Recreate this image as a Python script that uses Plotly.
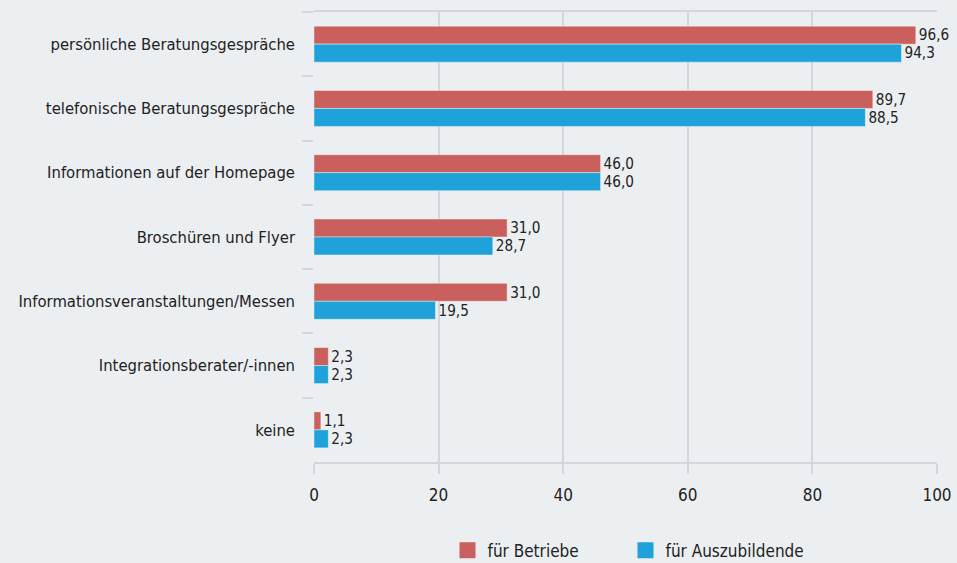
import plotly.graph_objects as go

categories = [
    "persönliche Beratungsgespräche",
    "telefonische Beratungsgespräche",
    "Informationen auf der Homepage",
    "Broschüren und Flyer",
    "Informationsveranstaltungen/Messen",
    "Integrationsberater/-innen",
    "keine",
]
betriebe = [96.6, 89.7, 46.0, 31.0, 31.0, 2.3, 1.1]
azubis = [94.3, 88.5, 46.0, 28.7, 19.5, 2.3, 2.3]
series_names = ["für Betriebe", "für Auszubildende"]
x_ticks = [0, 20, 40, 60, 80, 100]

FONT = "Liberation Sans Narrow, DejaVu Sans Condensed, Arial Narrow, sans-serif"
BG = "#ebeff2"
GRID = "#d3d6da"
TXT = "#222222"
COLORS = ["#c9605d", "#1ea2d9"]

def fmt(v):
    return f"{v:.1f}".replace(".", ",")

fig = go.Figure()
for name, vals, col in [(series_names[0], betriebe, COLORS[0]), (series_names[1], azubis, COLORS[1])]:
    fig.add_trace(go.Bar(
        y=categories, x=vals, name=name, orientation="h",
        marker=dict(color=col, line=dict(color="rgba(255,255,255,0.5)", width=0.8)),
        text=[fmt(v) for v in vals], textposition="outside",
        textfont=dict(size=16, color=TXT, family=FONT),
        cliponaxis=False, showlegend=False,
    ))
# legend entries with larger square swatches
for name, col in zip(series_names, COLORS):
    fig.add_trace(go.Scatter(
        x=[None], y=[None], mode="markers", name=name,
        marker=dict(symbol="square", size=22, color=col),
        showlegend=True,
    ))

fig.update_layout(
    width=957, height=563,
    paper_bgcolor=BG, plot_bgcolor=BG,
    margin=dict(l=314, r=20, t=12, b=101, autoexpand=False),
    barmode="group", bargap=0.44, bargroupgap=0,
    font=dict(family=FONT, size=16, color=TXT),
    legend=dict(orientation="h", x=0.5, xanchor="center",
                yref="container", y=0.022, yanchor="middle",
                font=dict(size=17, color=TXT), entrywidth=133, traceorder="normal",
                itemsizing="trace", bgcolor="rgba(0,0,0,0)"),
)
fig.update_xaxes(
    range=[0, 100], tickvals=x_ticks, ticktext=[str(t) for t in x_ticks],
    showgrid=True, gridcolor=GRID, gridwidth=1.5, zeroline=False,
    showline=True, linecolor=GRID, linewidth=1.5, mirror=True,
    ticks="outside", ticklen=10, tickcolor=GRID, tickwidth=1.5,
    tickfont=dict(size=17, color=TXT), ticklabelstandoff=7, automargin=False,
)
fig.update_yaxes(
    categoryorder="array", categoryarray=categories, autorange="reversed",
    ticks="outside", tickson="boundaries", ticklen=11, tickcolor=GRID, tickwidth=1.5,
    showgrid=False, showline=False, zeroline=False,
    tickfont=dict(size=16.5, color=TXT), ticklabelstandoff=18, automargin=False,
)

fig.write_html(
    "out.html",
    config={"displayModeBar": False},
    post_script="document.body.style.margin='0';document.body.style.background='#ebeff2';",
)
